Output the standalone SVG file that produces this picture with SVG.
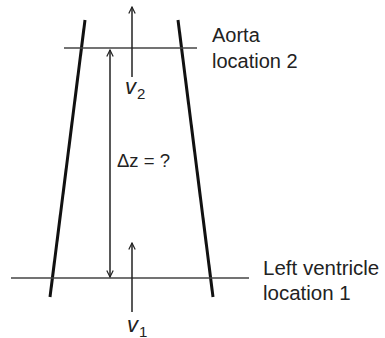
<svg xmlns="http://www.w3.org/2000/svg" width="385" height="338" viewBox="0 0 385 338">
<defs>
<style>
.wall{stroke:#111;stroke-width:3;fill:none;stroke-linecap:butt}
.lvl{stroke:#444;stroke-width:1.5;fill:none}
.arr{stroke:#222;stroke-width:1.5;fill:none}
.t{font-family:"Liberation Sans",Arial,sans-serif;fill:#222}
.v{font-family:"Liberation Sans",Arial,sans-serif;font-style:italic;fill:#222}
</style>
<marker id="open" viewBox="0 0 10 10" refX="9" refY="5" markerWidth="8" markerHeight="8" markerUnits="userSpaceOnUse" orient="auto-start-reverse">
<path d="M1,1 L9,5 L1,9" fill="none" stroke="#222" stroke-width="1.5"/>
</marker>
</defs>
<g id="vessel">
<line class="wall" x1="85" y1="20" x2="50" y2="297"/>
<line class="wall" x1="178" y1="20" x2="213" y2="297"/>
</g>
<g id="location2">
<line class="lvl" x1="64" y1="48" x2="197" y2="48"/>
<text class="t" x="212" y="42" font-size="20">Aorta</text>
<text class="t" x="212" y="68" font-size="20">location 2</text>
</g>
<g id="location1">
<line class="lvl" x1="11" y1="278" x2="249" y2="278"/>
<text class="t" x="263" y="275" font-size="20.5">Left ventricle</text>
<text class="t" x="263" y="300" font-size="20.5">location 1</text>
</g>
<g id="connectors">
<line class="arr" x1="110" y1="50" x2="110" y2="277" marker-start="url(#open)" marker-end="url(#open)"/>
<line class="arr" x1="132" y1="77" x2="132" y2="7" marker-end="url(#open)"/>
<line class="arr" x1="132" y1="312" x2="132" y2="243" marker-end="url(#open)"/>
</g>
<g id="v2">
<text class="v" x="125" y="94" font-size="22">v</text>
<text class="t" x="137" y="98.5" font-size="15">2</text>
</g>
<g id="dz">
<text class="t" x="117" y="167" font-size="18.5">Δz = ?</text>
</g>
<g id="v1">
<text class="v" x="127" y="332" font-size="22">v</text>
<text class="t" x="139" y="336.5" font-size="15">1</text>
</g>
</svg>
